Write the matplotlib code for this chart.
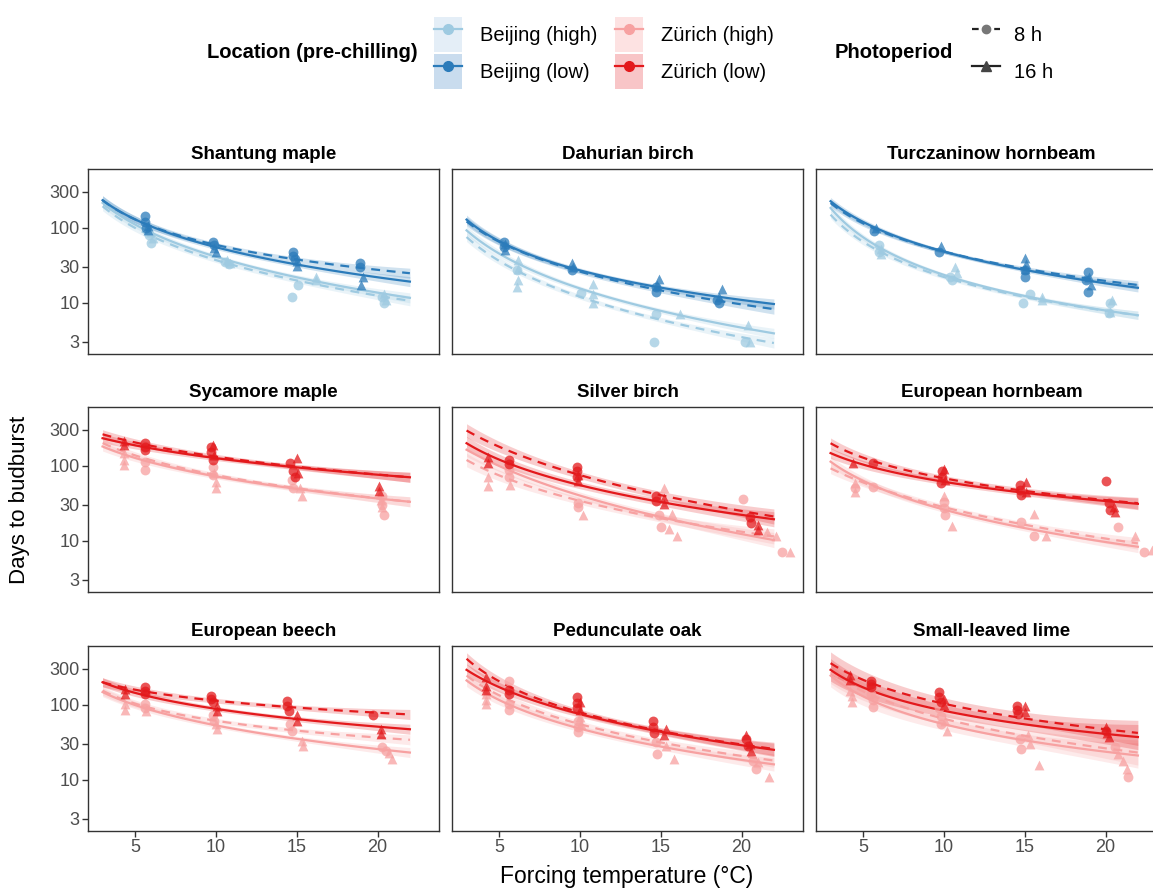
import numpy as np
import matplotlib
matplotlib.use("Agg")
import matplotlib.pyplot as plt
from matplotlib.lines import Line2D
from matplotlib.patches import Patch

plt.rcParams['font.family'] = ['Liberation Sans', 'DejaVu Sans']

# panel order (row by row)
species = ["Shantung maple", "Dahurian birch", "Turczaninow hornbeam",
           "Sycamore maple", "Silver birch", "European hornbeam",
           "European beech", "Pedunculate oak", "Small-leaved lime"]
origin = ["Beijing", "Beijing", "Beijing",
          "Zürich", "Zürich", "Zürich",
          "Zürich", "Zürich", "Zürich"]

curve_temps = [3, 10, 22]
curves = {
    "Shantung maple":       {"L8": [232, 59, 24.7], "L16": [232, 55, 19.1], "H8": [193, 37, 10.6], "H16": [214, 41, 11.6]},
    "Dahurian birch":       {"L8": [121, 26, 8.2],  "L16": [128, 27, 9.6],  "H8": [75, 12, 2.9],   "H16": [92, 15.5, 3.9]},
    "Turczaninow hornbeam": {"L8": [213, 48, 17.2], "L16": [225, 48, 15.8], "H8": [149, 22, 6.8],  "H16": [183, 23.5, 6.8]},
    "Sycamore maple":       {"L8": [262, 132, 70],  "L16": [232, 126, 70],  "H8": [200, 75, 33],   "H16": [180, 72, 33]},
    "Silver birch":         {"L8": [294, 75, 21],   "L16": [199, 55, 19.3], "H8": [119, 34, 11.4], "H16": [163, 40, 10.2]},
    "European hornbeam":    {"L8": [199, 68, 31.6], "L16": [147, 61, 31],   "H8": [92, 28, 9.2],   "H16": [113, 26, 8.3]},
    "European beech":       {"L8": [199, 113, 74],  "L16": [199, 88, 47],   "H8": [154, 61, 34],   "H16": [147, 53, 23]},
    "Pedunculate oak":      {"L8": [409, 79, 25.7], "L16": [291, 75, 25],   "H8": [244, 55, 18],   "H16": [210, 48, 16]},
    "Small-leaved lime":    {"L8": [357, 103, 42],  "L16": [291, 83, 37],   "H8": [270, 65, 23],   "H16": [244, 55, 21]},
}
# confidence band half width (log10 units)
band = [0.03, 0.03, 0.025, 0.03, 0.045, 0.035, 0.03, 0.04, 0.075]

# observations: (temperature, days)
points = {
    "Shantung maple": {
        "L8": [(5.6, 142), (5.6, 118), (5.7, 100), (9.8, 65), (9.9, 58), (14.8, 47), (14.8, 42), (14.9, 38), (18.9, 34), (18.9, 30)],
        "L16": [(5.8, 105), (5.8, 92), (9.9, 54), (10, 47), (15, 36), (15, 31), (19.1, 22), (19, 17)],
        "H8": [(5.9, 80), (6, 63), (10.6, 35), (10.8, 33), (14.7, 12), (15.1, 17), (20.3, 12), (20.4, 10)],
        "H16": [(6, 88), (6.1, 72), (10.7, 37), (10.9, 34), (16.2, 22), (16.2, 20), (20.4, 13), (20.5, 11)]},
    "Dahurian birch": {
        "L8": [(5.3, 65), (5.3, 55), (9.5, 27), (14.7, 16), (14.7, 14), (18.5, 11), (18.6, 10)],
        "L16": [(5.4, 60), (5.4, 50), (9.5, 34), (9.6, 30), (14.9, 21), (14.8, 17), (18.8, 15), (18.6, 12)],
        "H8": [(6.1, 27), (10.1, 13.5), (14.7, 7), (14.6, 3), (20.2, 3)],
        "H16": [(6.2, 37), (6.2, 28), (6.2, 20), (6.1, 16), (10.8, 18), (10.8, 13), (10.8, 10), (16.2, 7), (20.4, 5.1), (20.5, 3)]},
    "Turczaninow hornbeam": {
        "L8": [(5.7, 89), (9.7, 47), (15, 27), (15, 22), (18.9, 26), (18.8, 20), (18.9, 14)],
        "L16": [(5.8, 99), (9.8, 57), (15, 39), (15.1, 33), (15, 28), (19, 22), (19.1, 17)],
        "H8": [(6, 59), (6, 48), (10.4, 22), (10.5, 20), (14.9, 10), (15.3, 13), (20.3, 10), (20.2, 7.2)],
        "H16": [(6.1, 52), (6.1, 44), (10.7, 30), (10.8, 25), (16.1, 12), (16.1, 11), (20.4, 11), (20.3, 7.5)]},
    "Sycamore maple": {
        "L8": [(5.6, 200), (5.6, 180), (5.6, 163), (9.7, 175), (9.7, 150), (9.8, 120), (14.6, 108), (14.8, 85), (14.9, 71)],
        "L16": [(4.3, 210), (4.3, 190), (9.8, 190), (9.9, 140), (15, 125), (15.1, 80), (20.1, 54), (20.1, 46)],
        "H8": [(5.6, 113), (5.6, 87), (9.8, 97), (9.8, 75), (14.7, 65), (14.8, 50), (20.3, 39), (20.3, 30), (20.4, 22)],
        "H16": [(4.3, 146), (4.3, 120), (4.3, 103), (9.9, 80), (10, 60), (10, 50), (15.2, 50), (15.3, 40), (20.2, 35), (20.3, 28)]},
    "Silver birch": {
        "L8": [(5.6, 119), (5.6, 105), (9.8, 97), (9.8, 85), (9.8, 70), (14.7, 39), (14.7, 34), (20.5, 21), (20.6, 17)],
        "L16": [(4.3, 132), (4.3, 110), (9.9, 75), (9.9, 62), (15.2, 37), (15.2, 31), (21, 16), (21, 14)],
        "H8": [(5.6, 87), (5.6, 70), (9.9, 32), (9.9, 28), (14.9, 22), (15, 15.4), (20.1, 36), (22.5, 7)],
        "H16": [(4.3, 53), (4.3, 70), (5.7, 55), (10.2, 22), (15.2, 51), (15.7, 23), (15.5, 14.5), (16, 11.4), (21.6, 13), (22.1, 11.4), (23, 7)]},
    "European hornbeam": {
        "L8": [(5.6, 108), (9.9, 84), (9.9, 70), (9.8, 59), (14.7, 56), (14.7, 48), (14.8, 41), (20, 62), (20.2, 32), (20.3, 26)],
        "L16": [(4.4, 108), (10, 90), (10.1, 65), (15.1, 60), (15.1, 45), (20.5, 28), (20.6, 24)],
        "H8": [(4.5, 50), (5.6, 52), (10, 33), (10, 27), (10.1, 22), (14.8, 18), (15.6, 11.4), (20.8, 15), (22.4, 7)],
        "H16": [(4.5, 59), (4.5, 45), (10, 39), (10.5, 15.5), (15.6, 23), (16.3, 11.4), (21.8, 11.4), (22.9, 7.5)]},
    "European beech": {
        "L8": [(5.6, 170), (5.6, 150), (5.6, 139), (9.7, 132), (9.7, 120), (9.8, 108), (14.4, 113), (14.4, 95), (14.5, 83), (19.7, 72)],
        "L16": [(4.4, 161), (4.4, 139), (10.1, 97), (10.1, 83), (15, 72), (15, 61), (20.2, 48), (20.2, 41)],
        "H8": [(5.6, 102), (5.6, 90), (9.8, 72), (9.9, 60), (14.6, 55), (14.7, 45), (20.3, 27), (20.5, 24)],
        "H16": [(4.4, 102), (4.4, 85), (5.7, 83), (10, 55), (10.1, 48), (15.3, 33), (15.4, 28), (20.7, 23), (20.9, 19)]},
    "Pedunculate oak": {
        "L8": [(5.6, 156), (5.6, 140), (9.8, 125), (9.8, 105), (9.8, 90), (14.5, 61), (14.5, 50), (14.6, 42), (20.3, 35), (20.4, 28)],
        "L16": [(4.2, 234), (4.2, 180), (4.2, 156), (10, 110), (10, 85), (15.3, 47), (15.2, 40), (20.3, 39), (20.5, 30), (20.6, 24)],
        "H8": [(5.6, 209), (5.6, 102), (5.6, 85), (9.9, 60), (9.9, 50), (9.9, 43), (14.7, 32), (14.8, 22), (20.7, 18), (20.9, 14)],
        "H16": [(4.2, 139), (4.2, 115), (4.2, 102), (10, 68), (10.1, 55), (15.3, 28), (15.8, 19), (21, 17), (21.7, 11)]},
    "Small-leaved lime": {
        "L8": [(5.5, 209), (5.5, 190), (5.5, 170), (9.7, 147), (9.7, 125), (9.8, 108), (14.5, 97), (14.5, 85), (14.6, 76), (20, 45)],
        "L16": [(4.2, 245), (4.2, 210), (10, 120), (10, 100), (15, 97), (15, 80), (20, 50), (20.1, 42), (20.2, 37)],
        "H8": [(5.5, 139), (5.6, 115), (5.6, 94), (9.7, 90), (9.8, 70), (9.8, 55), (14.7, 35), (14.8, 26), (20.6, 27), (21.4, 11)],
        "H16": [(4.2, 154), (4.3, 130), (4.3, 108), (10.1, 60), (10.2, 45), (15.2, 39), (15.3, 30), (15.9, 15.5), (20.8, 22), (21.1, 18), (21.3, 14)]},
}

colors = {
    ("Beijing", "H"): "#9ecae1", ("Beijing", "L"): "#2b7bba",
    ("Zürich", "H"): "#f7a1a1", ("Zürich", "L"): "#e3191c",
}
fills = {
    ("Beijing", "H"): "#e4eef7", ("Beijing", "L"): "#c9dcee",
    ("Zürich", "H"): "#fde2e2", ("Zürich", "L"): "#f8c5c7",
}

W, H = 1153, 890
fig = plt.figure(figsize=(W / 100, H / 100), dpi=100)

col_left = [88, 452, 816]
row_top = [169, 407, 646]
pw, ph = 351, 185

xgrid = np.linspace(3, 22, 120)
lt = np.log10(curve_temps)

for i, sp in enumerate(species):
    r, c = divmod(i, 3)
    ax = fig.add_axes([col_left[c] / W, 1 - (row_top[r] + ph) / H, pw / W, ph / H])
    loc = origin[i]
    for grp in ["H", "L"]:
        col = colors[(loc, grp)]
        for pp, ls, mk in [("8", (0, (4, 3)), "o"), ("16", "-", "^")]:
            key = grp + pp
            coef = np.polyfit(lt, np.log10(curves[sp][key]), 2)
            ly = np.polyval(coef, np.log10(xgrid))
            hw = band[i] * (1 + ((xgrid - 12) / 9) ** 2)
            ax.fill_between(xgrid, 10 ** (ly - hw), 10 ** (ly + hw), color=col,
                            alpha=0.22, lw=0, zorder=1)
            ax.plot(xgrid, 10 ** ly, color=col, ls=ls, lw=1.6, zorder=3)
            px = [p[0] for p in points[sp][key]]
            py = [p[1] for p in points[sp][key]]
            ax.scatter(px, py, marker=mk, s=50, color=col, alpha=0.75,
                       lw=0, zorder=4)
    ax.set_yscale("log")
    ax.set_ylim(2.07, 605)
    ax.set_xlim(2.1, 23.8)
    ax.set_yticks([3, 10, 30, 100, 300])
    ax.set_yticks([], minor=True)
    ax.set_xticks([5, 10, 15, 20])
    if c == 0:
        ax.set_yticklabels(["3", "10", "30", "100", "300"])
    else:
        ax.tick_params(axis="y", left=False, labelleft=False)
    if r == 2:
        ax.set_xticklabels(["5", "10", "15", "20"])
    else:
        ax.tick_params(axis="x", bottom=False, labelbottom=False)
    ax.tick_params(labelsize=13, labelcolor="#4d4d4d", color="#333333",
                   length=4, width=1, pad=2)
    for s in ax.spines.values():
        s.set_color("#333333")
        s.set_linewidth(1)
    ax.set_title(sp, fontsize=13.5, fontweight="bold", pad=7)

fig.text(20 / W, 1 - 500 / H, "Days to budburst", rotation=90, fontsize=16,
         ha="center", va="center")
fig.text(627 / W, 1 - 877 / H, "Forcing temperature (°C)", fontsize=16.5,
         ha="center", va="center")

# legends
fig.text(418 / W, 1 - 53 / H, "Location (pre-chilling)", fontsize=14.5,
         fontweight="bold", ha="right", va="center")
loc_handles, loc_labels = [], []
for loc in ["Beijing", "Zürich"]:
    for grp, name in [("H", "high"), ("L", "low")]:
        loc_handles.append((Patch(facecolor=fills[(loc, grp)], edgecolor="none"),
                            Line2D([], [], color=colors[(loc, grp)], lw=1.6,
                                   marker="o", markersize=7)))
        loc_labels.append(f"{loc} ({name})")
fig.legend(loc_handles, loc_labels, loc="upper left",
           bbox_to_anchor=(424 / W, 1 - 7 / H), ncol=2, frameon=False,
           fontsize=14.5, handlelength=1.4, handleheight=2.3, handletextpad=0.9,
           labelspacing=0.1, columnspacing=0.85, borderpad=0)

fig.text(953 / W, 1 - 53 / H, "Photoperiod", fontsize=14.5, fontweight="bold",
         ha="right", va="center")
pp_handles = [Line2D([], [], color="#222222", ls=(0, (3, 2)), lw=1.6, marker="o",
                     markersize=6, markerfacecolor="#777777", markeredgecolor="#777777"),
              Line2D([], [], color="#222222", ls="-", lw=1.6, marker="^",
                     markersize=7, markerfacecolor="#444444", markeredgecolor="#444444")]
fig.legend(pp_handles, ["8 h", "16 h"], loc="upper left",
           bbox_to_anchor=(962 / W, 1 - 7 / H), frameon=False, fontsize=14.5,
           handlelength=1.4, handleheight=2.3, handletextpad=0.7,
           labelspacing=0.1, borderpad=0)

fig.savefig("out.png", dpi=100)
